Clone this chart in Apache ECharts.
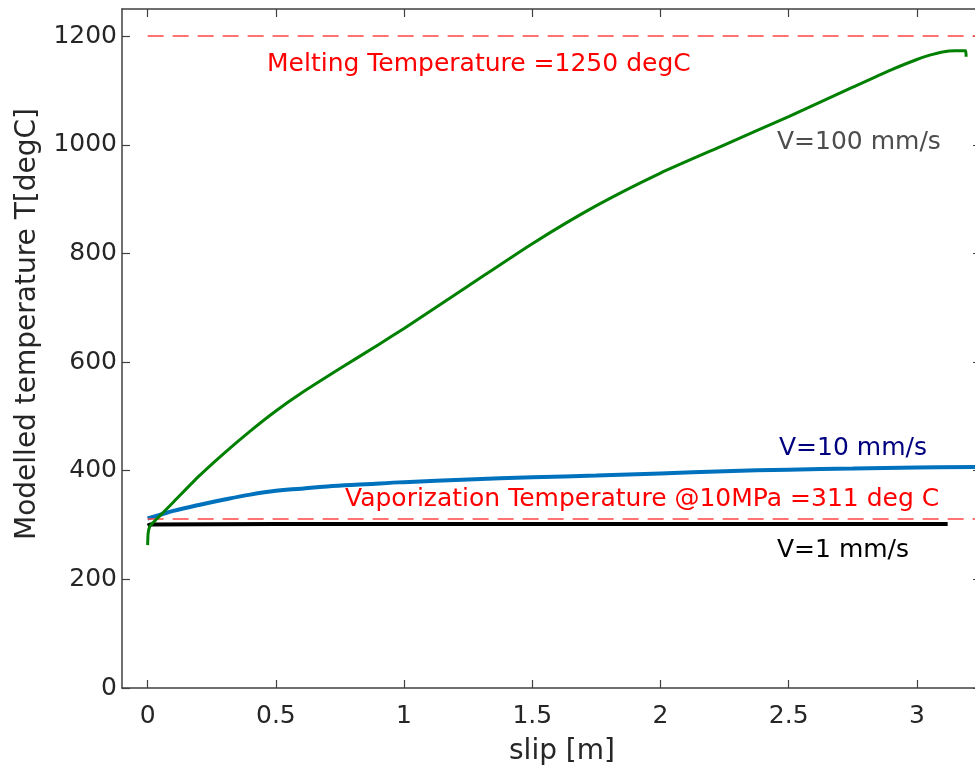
<!DOCTYPE html>
<html>
<head>
<meta charset="utf-8">
<script src="https://cdn.jsdelivr.net/npm/echarts@6/dist/echarts.min.js"></script>
<style>
  html, body { margin: 0; padding: 0; background: #fff; }
  #chart { width: 975px; height: 771px; }
</style>
</head>
<body>
<div id="chart"></div>
<script>
// slip [m] / temperature [degC]
const slipV100 = [0, 0.002, 0.008, 0.02, 0.05, 0.1, 0.2, 0.3, 0.4, 0.5, 0.6, 0.75, 0.9, 1.0, 1.25, 1.5, 1.75, 2.0, 2.25, 2.5, 2.75, 2.9, 3.0, 3.05, 3.1, 3.15, 3.19, 3.192];
const tempV100 = [263, 285, 297, 304, 318, 342, 390, 433, 473, 510, 543, 588, 632, 662, 740, 818, 888, 948, 1000, 1052, 1106, 1138, 1157, 1165, 1171, 1173, 1173, 1162];

const slipV10 = [0, 0.05, 0.1, 0.2, 0.3, 0.4, 0.5, 0.6, 0.7, 0.85, 1.0, 1.25, 1.5, 1.75, 2.0, 2.25, 2.5, 2.75, 3.0, 3.25];
const tempV10 = [312, 319, 326, 337, 347, 356, 363, 367, 371, 375, 379, 384, 388, 391, 395, 399, 402, 404, 406, 407];

const slipV1 = [0, 0.01, 0.5, 1.0, 2.0, 3.12];
const tempV1 = [299, 301, 302, 302, 302, 302];

const meltingLine = 1200;
const vaporLine = 311;

const xTicks = [0, 0.5, 1, 1.5, 2, 2.5, 3];
const yTicks = [0, 200, 400, 600, 800, 1000, 1200];

const FONT = '"DejaVu Sans", Verdana, sans-serif';

const zip = (xs, ys) => xs.map((x, i) => [x, ys[i]]);

const chart = echarts.init(document.getElementById('chart'));

const axisLine = { show: true, onZero: false, lineStyle: { color: '#404040', width: 1.5 } };
const axisTick = (vals) => ({ show: true, inside: true, length: 8, customValues: vals, lineStyle: { color: '#404040', width: 1.2 } });
const plain = v => String(v);

const option = {
    animation: false,
    backgroundColor: '#fff',
    grid: { left: 122, top: 9, width: 859, height: 679, outerBoundsMode: 'none', containLabel: false },
    xAxis: [
        {
            type: 'value', min: -0.1, max: 3.25, position: 'bottom',
            axisLine: axisLine,
            axisTick: axisTick(xTicks),
            axisLabel: { customValues: xTicks, formatter: plain, fontSize: 25, color: '#262626', fontFamily: FONT, margin: 16 },
            splitLine: { show: false }
        },
        {
            type: 'value', min: -0.1, max: 3.25, position: 'top',
            axisLine: axisLine,
            axisTick: axisTick(xTicks),
            axisLabel: { show: false },
            splitLine: { show: false }
        }
    ],
    yAxis: [
        {
            type: 'value', min: 0, max: 1250, position: 'left',
            axisLine: axisLine,
            axisTick: axisTick(yTicks),
            axisLabel: { customValues: yTicks, formatter: plain, fontSize: 25, color: '#262626', fontFamily: FONT, margin: 5 },
            splitLine: { show: false }
        },
        {
            type: 'value', min: 0, max: 1250, position: 'right',
            axisLine: axisLine,
            axisTick: axisTick(yTicks),
            axisLabel: { show: false },
            splitLine: { show: false }
        }
    ],
    series: [
        {
            name: 'V=1 mm/s', type: 'line', data: zip(slipV1, tempV1),
            showSymbol: false, lineStyle: { color: '#000', width: 4 }, z: 3
        },
        {
            name: 'V=10 mm/s', type: 'line', data: zip(slipV10, tempV10), smooth: 0.4,
            showSymbol: false, lineStyle: { color: '#0072BD', width: 4 }, z: 4
        },
        {
            name: 'V=100 mm/s', type: 'line', data: zip(slipV100, tempV100), smooth: 0.2,
            showSymbol: false, lineStyle: { color: '#008000', width: 3 }, z: 5,
            markLine: {
                silent: true, symbol: 'none', label: { show: false },
                lineStyle: { color: '#ff4545', type: [16, 9], width: 1.6 },
                data: [
                    [{ coord: [0, meltingLine] }, { coord: [3.25, meltingLine] }],
                    [{ coord: [0, vaporLine] }, { coord: [3.25, vaporLine] }]
                ]
            }
        }
    ],
    graphic: [
        { type: 'text', x: 28, y: 324, rotation: Math.PI / 2,
          style: { text: 'Modelled temperature T[degC]', fill: '#262626', font: '28px ' + FONT, align: 'center', verticalAlign: 'middle' } },
        { type: 'text', x: 562, y: 752,
          style: { text: 'slip [m]', fill: '#262626', font: '28px ' + FONT, align: 'center', verticalAlign: 'middle' } },
        { type: 'text', x: 267, y: 64,
          style: { text: 'Melting Temperature =1250 degC', fill: '#ff0000', font: '25px ' + FONT, align: 'left', verticalAlign: 'middle' } },
        { type: 'text', x: 777, y: 142,
          style: { text: 'V=100 mm/s', fill: '#4d4d4d', font: '25px ' + FONT, align: 'left', verticalAlign: 'middle' } },
        { type: 'text', x: 779, y: 448,
          style: { text: 'V=10 mm/s', fill: '#00007f', font: '25px ' + FONT, align: 'left', verticalAlign: 'middle' } },
        { type: 'text', x: 345, y: 499,
          style: { text: 'Vaporization Temperature @10MPa =311 deg C', fill: '#ff0000', font: '25px ' + FONT, align: 'left', verticalAlign: 'middle' } },
        { type: 'text', x: 777, y: 550,
          style: { text: 'V=1 mm/s', fill: '#000', font: '25px ' + FONT, align: 'left', verticalAlign: 'middle' } }
    ]
};

chart.setOption(option);
</script>
</body>
</html>
